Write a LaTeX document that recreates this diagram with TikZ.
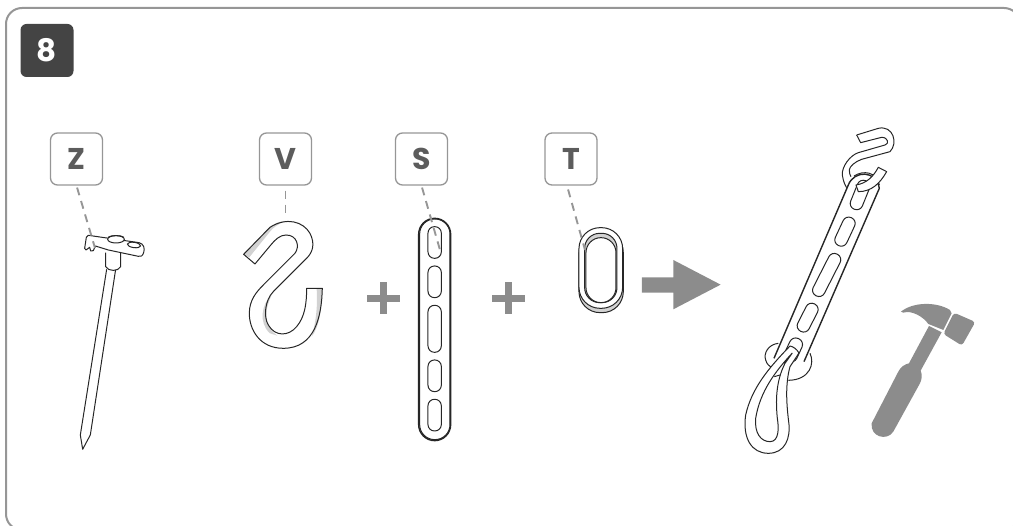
\documentclass[tikz,border=0pt]{standalone}
\usepackage{fontspec}
\setmainfont{Poppins}
\definecolor{framegray}{HTML}{969696}
\definecolor{signgray}{HTML}{8C8C8C}
\definecolor{textgray}{HTML}{5C5C5C}
\definecolor{badgegray}{HTML}{444444}
\definecolor{shadegray}{HTML}{D2D2D2}
\newcommand{\slotbar}[5]{\draw[part,shift={(#1,#2)},rotate=#5,rounded corners=0.16*#4 pt] (-#3/2,-#4/2) rectangle (#3/2,#4/2);}
\begin{document}
\begin{tikzpicture}[x=1pt,y=-1pt,
	labelbox/.style={draw=framegray,line width=1.3pt,rounded corners=7pt,minimum size=52pt,inner sep=0pt,text=textgray,font=\fontsize{30}{30}\selectfont\bfseries},
	leader/.style={draw=framegray,line width=1.9pt,dash pattern=on 8pt off 6pt},
	part/.style={draw=black!85,line width=1pt,line join=round},
	zoomed/.style={x=.3333pt,y=-.3333pt}]

	\path[use as bounding box] (0,0) rectangle (1013,526);
	\clip (0,0) rectangle (1013,526);
	\draw[framegray,line width=2pt,rounded corners=16pt] (6,8) rectangle (1020,530);
	\node[fill=badgegray,rounded corners=6pt,minimum size=53pt,inner sep=0pt,text=white,font=\fontsize{31}{31}\selectfont\bfseries] (badge) at (47,50.5) {8};

	\node[labelbox] (Zlabel) at (76.5,159) {Z};
	\node[labelbox] (Vlabel) at (285.5,159) {V};
	\node[labelbox] (Slabel) at (421.5,159) {S};
	\node[labelbox] (Tlabel) at (571,159) {T};

	% nail
	\begin{scope}[shift={(40,120)},zoomed]
		\draw[part] (200,448) -- (121,945) -- (128,988) -- (151,945) -- (227,448);
		\draw[part,fill=white] (197,398) -- (197,440) .. controls (205,455) and (235,455) .. (242,440) -- (242,398);
		\draw[part,fill=white] (145,346) -- (297,368) .. controls (312,372) and (315,385) .. (311,398) .. controls (308,408) and (302,411) .. (295,409) -- (205,390) -- (166,378) -- (160,392) -- (152,393) -- (149,382) -- (138,390) -- (134,385) -- (139,352) -- cycle;
		\draw[part,fill=white] (228,358) ellipse (25 and 11);
		\draw[part] (204,352) .. controls (212,345) and (244,345) .. (252,352);
		\draw[part,rotate around={-8:(282,375)}] (282,375) ellipse (20 and 8);
	\end{scope}

	% hook
	\begin{scope}[shift={(40,120)},zoomed]
		\fill[shadegray] (611,403) -- (690,322) .. controls (705,308) and (720,304) .. (735,304) .. controls (715,312) and (700,322) .. (690,335) -- (628,412) -- cycle;
		\fill[shadegray] (695,525) .. controls (665,550) and (655,610) .. (690,640) -- (712,647) .. controls (680,625) and (665,590) .. cycle;
		\fill[shadegray] (830,505) -- (847,505) .. controls (845,570) and (838,620) .. (815,650) .. controls (830,600) and (833,550) .. cycle;
		\draw[part] (611,403) -- (690,322) .. controls (740,290) and (790,305) .. (810,340) .. controls (825,370) and (820,395) .. (800,415) -- (700,515) .. controls (675,540) and (670,590) .. (685,615) .. controls (705,650) and (745,650) .. (770,620) .. controls (795,590) and (800,550) .. (800,505) -- (847,505) .. controls (845,590) and (825,685) .. (730,685) .. controls (660,685) and (628,630) .. (628,580) .. controls (628,540) and (650,515) .. (670,495) -- (765,400) .. controls (780,380) and (772,345) .. (738,345) .. controls (720,345) and (705,360) .. (695,372) -- (645,432) -- cycle;
	\end{scope}

	% strap and ring
	\begin{scope}[shift={(360,120)},zoomed]
		\draw[part,line width=1.4pt,rounded corners=16pt] (176,295) rectangle (272,962);
		\draw[part,rounded corners=15pt] (179,297) rectangle (270,959);
		\slotbar{224}{367.5}{95}{40}{90}
		\slotbar{224}{485.5}{95}{40}{90}
		\slotbar{224}{626.5}{141}{40}{90}
		\slotbar{224}{767.5}{95}{40}{90}
		\slotbar{224}{885.5}{95}{40}{90}

		\draw[part,fill=shadegray,rounded corners=21pt] (657,335) rectangle (790,578);
		\draw[part,fill=white,rounded corners=21pt] (657,323) rectangle (788,565);
		\draw[part,fill=shadegray,rounded corners=15pt] (674,340) rectangle (771,548);
		\draw[part,fill=white,rounded corners=15pt] (678,353) rectangle (768,548);

		\fill[signgray] (22,524) rectangle (120,546);
		\fill[signgray] (59,487) rectangle (81,583);
		\fill[signgray] (396,524) rectangle (494,546);
		\fill[signgray] (434,487) rectangle (456,583);
		\fill[signgray] (846,472) -- (940,472) -- (940,420) -- (1082,494) -- (940,568) -- (940,518) -- (846,518) -- cycle;
	\end{scope}

	% assembled
	\begin{scope}[shift={(735,325)},zoomed]
		\draw[part] (130,55) .. controls (100,58) and (85,85) .. (92,105) .. controls (95,118) and (105,125) .. (112,128);
		\draw[part] (225,85) .. controls (240,115) and (225,165) .. (160,166);
	\end{scope}
	\begin{scope}[shift={(730,120)},zoomed]
		\draw[part] (380,45) -- (445,25) .. controls (490,15) and (505,70) .. (480,95) -- (395,118) .. controls (375,125) and (358,140) .. (358,150) .. controls (358,160) and (360,165) .. (363,170);
		\draw[part] (380,45) -- (392,68) -- (455,52) .. controls (475,52) and (478,72) .. (465,75) -- (385,98) .. controls (360,106) and (335,140) .. (337,165) .. controls (340,185) and (345,195) .. (350,203);
		\draw[part,line width=1.4pt,fill=white] (132,715) -- (355,195) .. controls (372,150) and (440,150) .. (448,205) -- (222,725);
		\draw[part] (372,168) .. controls (400,150) and (440,155) .. (448,195);
		\slotbar{390}{225}{92}{38}{68}
		\slotbar{345}{335}{92}{38}{65}
		\slotbar{290}{465}{140}{38}{63}
		\slotbar{233}{593}{92}{38}{63}
		\slotbar{190}{690}{75}{40}{65}
		\draw[part,fill=white] (445,142) -- (470,155) .. controls (450,190) and (425,215) .. (385,215) -- (378,195) .. controls (410,190) and (430,170) .. cycle;
	\end{scope}
	\begin{scope}[shift={(735,325)},zoomed]
		\draw[part,fill=white] (165,63) .. controls (100,130) and (50,190) .. (32,270) .. controls (22,340) and (50,385) .. (100,385) .. controls (150,385) and (168,340) .. (161,290) .. controls (155,240) and (150,180) .. (165,125) -- (192,84) .. controls (185,72) and (175,65) .. cycle;
		\draw[part] (172,84) .. controls (120,140) and (75,200) .. (62,280) .. controls (58,325) and (78,350) .. (105,350) .. controls (132,350) and (132,310) .. (127,280) .. controls (122,230) and (122,170) .. (150,115) -- (172,84);
		\draw[part] (118,155) -- (135,150);
	\end{scope}

	% hammer
	\begin{scope}[shift={(730,120)},zoomed]
		\fill[signgray] (513,575) .. controls (550,545) and (620,545) .. (660,570) -- (665,580) -- (640,630) -- (595,612) .. controls (580,590) and (545,570) .. (520,578) -- cycle;
		\fill[signgray,rounded corners=3pt] (672,578) -- (736,606) -- (696,677) -- (640,642) -- cycle;
		\fill[signgray] (597,618) -- (635,637) -- (572,752) .. controls (578,765) and (575,780) .. (570,790) -- (490,935) .. controls (470,965) and (420,950) .. (425,910) -- (505,755) .. controls (512,740) and (525,733) .. (537,730) -- cycle;
	\end{scope}

	\coordinate (Zend) at (95,248);
	\coordinate (Vend) at (285.5,216);
	\coordinate (Send) at (440,250);
	\coordinate (Tend) at (585,250);
	\draw[leader,shorten <=2pt] (Zlabel.south) -- (Zend);
	\draw[leader,shorten <=5pt] (Vlabel.south) -- (Vend);
	\draw[leader,shorten <=2pt] (Slabel.south) -- (Send);
	\draw[leader,shorten <=4pt] ([xshift=-4pt]Tlabel.south) -- (Tend);

\end{tikzpicture}
\end{document}
